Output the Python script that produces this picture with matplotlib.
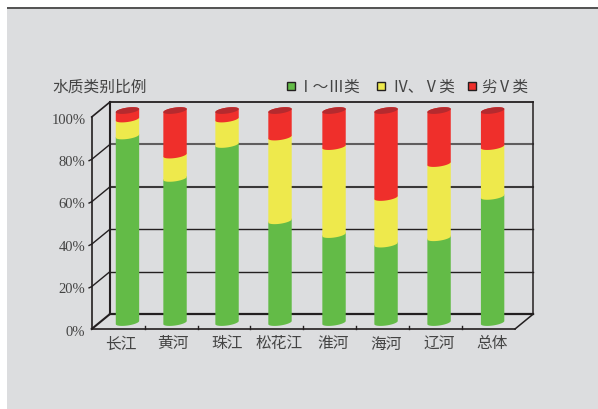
import numpy as np
import matplotlib
matplotlib.use('Agg')
import matplotlib.pyplot as plt
from matplotlib.patches import Polygon, Rectangle

plt.rcParams['font.family'] = ['Noto Sans CJK SC', 'DejaVu Sans']

categories = ['长江', '黄河', '珠江', '松花江', '淮河', '海河', '辽河', '总体']
class_1_3 = [88, 68, 84, 48, 41.5, 37, 40, 59.5]
class_4_5 = [8, 11, 12, 39.5, 41.5, 22, 35, 23.5]
class_worse = [4, 21, 4, 12.5, 17, 41, 25, 17]
legend_labels = ['Ⅰ～Ⅲ类', 'Ⅳ、Ⅴ类', '劣Ⅴ类']
y_ticks = [0, 20, 40, 60, 80, 100]
bar_x = [0.676, 1.575, 2.558, 3.559, 4.580, 5.563, 6.565, 7.577]

GREEN = '#63bb47'
YELLOW = '#eee94c'
RED = '#ef2f2b'
DARK_RED = '#b52a2e'
BG = '#dcdddf'
TEXT = '#444444'
LINE = '#231f20'

W, H = 598, 410
fig = plt.figure(figsize=(W / 100, H / 100), dpi=100, facecolor='white')

# gray panel behind everything, dark strip along its top
fig.patches.append(Rectangle((7 / W, 0), 591 / W, 400 / H, transform=fig.transFigure,
                             facecolor=BG, edgecolor='none', zorder=-5))
fig.patches.append(Rectangle((7 / W, 400 / H), 591 / W, 2 / H, transform=fig.transFigure,
                             facecolor='#555555', edgecolor='none', zorder=-4))

# axes box is the front plane of the fake 3d box
ax = fig.add_axes([91.7 / W, (H - 330) / H, 423.3 / W, 212 / H])
ax.set_xlim(0, 8)
ax.set_ylim(0, 100)
ax.axis('off')
ax.patch.set_alpha(0)

DX, DY = 0.346, 7.08  # depth offset, front plane to back wall


def line(xs, ys, lw=1.2, color=LINE, z=1):
    ax.plot(xs, ys, color=color, lw=lw, clip_on=False, solid_capstyle='projecting', zorder=z)


# back wall and floor
for v in y_ticks[1:-1]:
    grid_color = '#5f5d5e' if v == 80 else '#3a3839' if v == 60 else LINE
    line([DX, 8 + DX], [v + DY, v + DY], lw=1.5 if v >= 60 else 1.0, color=grid_color)
    line([0, DX], [v, v + DY], lw=1.0)
    line([-0.05, 0], [v - 0.6, v], lw=1.0)
line([DX, 8 + DX], [100 + DY, 100 + DY], lw=1.3)
line([DX, DX], [DY, 100 + DY], lw=1.5)
line([8 + DX, 8 + DX], [DY, 100 + DY], lw=1.1)
line([DX, 8 + DX], [DY, DY], lw=1.6)
line([0, DX], [100, 100 + DY], lw=1.2)
line([0, DX], [0, DY], lw=1.5)
line([8, 8 + DX], [0, DY], lw=1.1)
line([0, 8], [0, 0], lw=1.2)
line([0, 0], [0, 100], lw=1.2)
for i in range(1, 8):
    line([i, i], [0, 1.4], lw=1.0)

# cylinders
A, B, TILT = 0.221, 1.4, 0.75
LIFT = DY / 2 - 0.5
t = np.linspace(0, np.pi, 40)


def ex(cx, a):
    return cx + A * np.cos(a)


def ey(cy, a):
    return cy + B * np.sin(a) + TILT * np.cos(a)


for i, cx in enumerate(bar_x):
    base = 0.0
    for vals, color in zip([class_1_3, class_4_5, class_worse], [GREEN, YELLOW, RED]):
        top = base + vals[i]
        low = LIFT + base
        high = LIFT + top
        xs = np.concatenate([ex(cx, t + np.pi), ex(cx, t)])
        ys = np.concatenate([ey(low, t + np.pi), ey(high, t)])
        ax.add_patch(Polygon(np.column_stack([xs, ys]), closed=True, facecolor=color,
                             edgecolor='none', clip_on=False, zorder=3))
        base = top
    a = np.linspace(0, 2 * np.pi, 60)
    ax.add_patch(Polygon(np.column_stack([ex(cx, a), ey(LIFT + base, a)]), closed=True,
                         facecolor=DARK_RED, edgecolor='none', clip_on=False, zorder=4))

# tick labels
for v in y_ticks:
    ax.text(-0.12, v - 1.0, f'{v}%', ha='right', va='center', fontsize=10.5, color=TEXT,
            family=['Liberation Serif', 'DejaVu Sans'], clip_on=False)
for cx, name in zip([0.55, 1.54, 2.55, 3.55, 4.56, 5.56, 6.56, 7.57], categories):
    ax.text(cx, -6.6, name, ha='center', va='center', fontsize=11.3, color=TEXT, clip_on=False)

# title and legend in figure pixels
fig.text(52 / W, (H - 87) / H, '水质类别比例', ha='left', va='center', fontsize=11.3, color=TEXT)
for x0, tx, label, color in zip([287, 377, 468], [298, 392, 481], legend_labels, [GREEN, YELLOW, RED]):
    fig.patches.append(Rectangle((x0 / W, (H - 91) / H), 8 / W, 8 / H, transform=fig.transFigure,
                                 facecolor=color, edgecolor=LINE, lw=1.0))
    fig.text(tx / W, (H - 87) / H, label, ha='left', va='center', fontsize=11.3, color=TEXT)

fig.savefig('out.png', dpi=100, facecolor='white')
